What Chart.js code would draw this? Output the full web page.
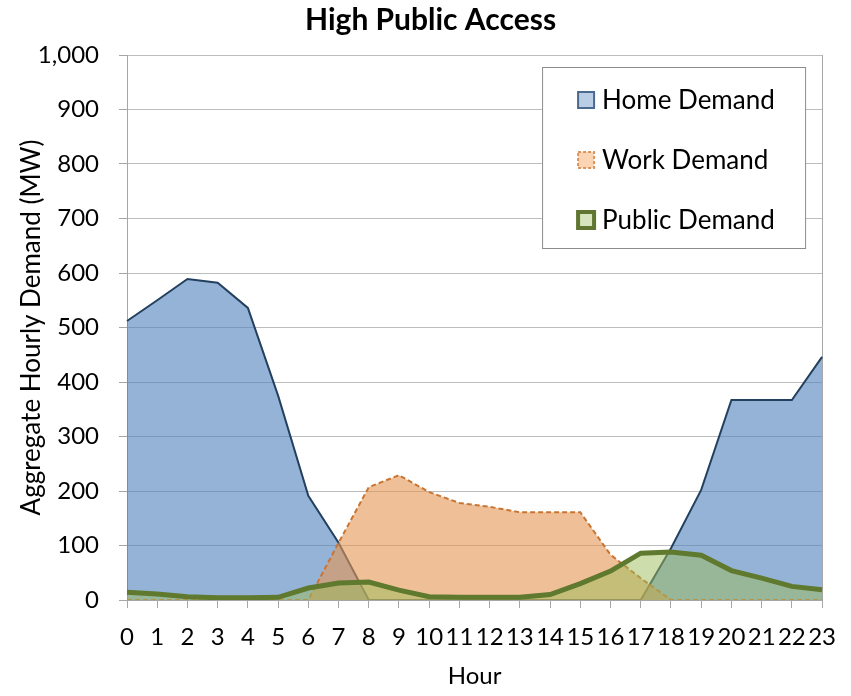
<!DOCTYPE html>
<html>
<head>
<meta charset="utf-8">
<title>High Public Access</title>
<script src="https://cdn.jsdelivr.net/npm/chart.js@4.4.0/dist/chart.umd.min.js"></script>
<style>
  html, body { margin: 0; padding: 0; background: #fff; }
  #wrap { position: relative; width: 851px; height: 696px; }
</style>
</head>
<body>
<div id="wrap"><canvas id="demandChart"></canvas></div>
<script>
// hours of the day on the x axis
const hours = ['0','1','2','3','4','5','6','7','8','9','10','11','12','13','14','15','16','17','18','19','20','21','22','23'];

// aggregate hourly demand (MW)
const homeDemand   = [512, 550, 589, 582, 536, 375, 191, 105, 0, 0, 0, 0, 0, 0, 0, 0, 0, 0, 95, 202, 367, 367, 367, 446];
const workDemand   = [0, 0, 0, 0, 0, 0, 0, 105, 207, 229, 198, 178, 171, 161, 161, 161, 83, 40, 0, 0, 0, 0, 0, 0];
const publicDemand = [14, 11, 6, 4, 4, 5, 22, 31, 33, 18, 6, 5, 5, 5, 10, 30, 53, 86, 88, 82, 54, 40, 25, 19];

// y axis ticks
const yMin = 0;
const yMax = 1000;
const yStep = 100;

const seriesNames = ['Home Demand', 'Work Demand', 'Public Demand'];

Chart.defaults.font.family = 'Lato, "Open Sans", sans-serif';
Chart.defaults.color = '#000';

// legend box sitting inside the plot, like the original
const boxLegend = {
  id: 'boxLegend',
  afterDraw(chart) {
    const ctx = chart.ctx;
    const area = chart.chartArea;
    const bx = area.right - 280, by = area.top + 12, bw = 263, bh = 181;
    ctx.save();
    ctx.fillStyle = '#fff';
    ctx.fillRect(bx, by, bw, bh);
    ctx.strokeStyle = '#8c8c8c';
    ctx.lineWidth = 1;
    ctx.strokeRect(bx + 0.5, by + 0.5, bw, bh);

    const markers = [
      { fill: '#b9cde5', stroke: '#4a6990', width: 2, dash: [] },
      { fill: '#fbd4b4', stroke: '#d9955a', width: 2, dash: [3, 2] },
      { fill: '#d7e4bd', stroke: '#5f7530', width: 4, dash: [] }
    ];
    chart.data.datasets.forEach((ds, i) => {
      const cy = by + 33 + i * 60;
      const m = markers[i];
      ctx.setLineDash(m.dash);
      ctx.fillStyle = m.fill;
      ctx.strokeStyle = m.stroke;
      ctx.lineWidth = m.width;
      ctx.fillRect(bx + 36, cy - 8, 16, 16);
      ctx.strokeRect(bx + 36, cy - 8, 16, 16);
      ctx.setLineDash([]);
      ctx.fillStyle = '#000';
      ctx.font = '26px Lato, "Open Sans", sans-serif';
      ctx.textBaseline = 'middle';
      ctx.textAlign = 'left';
      ctx.fillText(ds.label, bx + 60, cy + 1);
    });
    ctx.restore();
  }
};

// the original title is not centred on the canvas; nudge its box
const titleShift = {
  id: 'titleShift',
  afterLayout(chart) {
    if (chart.titleBlock) {
      chart.titleBlock.left = 39;
      chart.titleBlock.right = chart.chartArea.right;
    }
  }
};

const ctx = document.getElementById('demandChart').getContext('2d');
new Chart(ctx, {
  type: 'line',
  data: {
    labels: hours,
    datasets: [
      {
        label: seriesNames[0],
        data: homeDemand,
        fill: 'origin',
        backgroundColor: 'rgba(79, 129, 189, 0.6)',
        borderColor: '#24405f',
        borderWidth: 2,
        pointRadius: 0,
        tension: 0,
        order: 2
      },
      {
        label: seriesNames[1],
        data: workDemand,
        fill: 'origin',
        backgroundColor: 'rgba(228, 150, 82, 0.6)',
        borderColor: '#c87533',
        borderWidth: 2,
        borderDash: [5, 3],
        pointRadius: 0,
        tension: 0,
        order: 1
      },
      {
        label: seriesNames[2],
        data: publicDemand,
        fill: 'origin',
        backgroundColor: 'rgba(155, 187, 89, 0.5)',
        borderColor: '#5f7a2e',
        borderWidth: 5,
        pointRadius: 0,
        tension: 0,
        order: 0
      }
    ]
  },
  options: {
    responsive: true,
    maintainAspectRatio: false,
    animation: false,
    layout: { padding: { left: 0, right: 26, top: 0, bottom: 0 } },
    plugins: {
      legend: { display: false },
      tooltip: { enabled: false },
      title: {
        display: true,
        text: 'High Public Access',
        color: '#000',
        font: { size: 30, weight: 'bold' },
        padding: { top: 2, bottom: 17 }
      }
    },
    scales: {
      x: {
        offset: false,
        grid: {
          drawOnChartArea: true,
          color: c => (c.index === hours.length - 1 ? '#a6a6a6' : 'rgba(0,0,0,0)'),
          tickColor: '#a6a6a6',
          tickLength: 8
        },
        border: { color: '#a6a6a6' },
        ticks: { font: { size: 24 }, padding: 15, maxRotation: 0, autoSkip: false },
        title: { display: true, text: 'Hour', font: { size: 24 }, padding: { top: 0, bottom: 5 } },
        afterFit: scale => { scale.height = 96; }
      },
      y: {
        min: yMin,
        max: yMax,
        grid: { color: '#bdbdbd', tickColor: '#a6a6a6', tickLength: 8 },
        border: { color: '#a6a6a6' },
        ticks: {
          stepSize: yStep,
          font: { size: 24 },
          padding: 20,
          callback: v => v.toLocaleString('en-US')
        },
        title: {
          display: true,
          text: 'Aggregate Hourly Demand (MW)',
          font: { size: 26 },
          padding: { top: 16, bottom: 0 }
        },
        afterFit: scale => { scale.width = 127; }
      }
    }
  },
  plugins: [boxLegend, titleShift]
});
</script>
</body>
</html>
